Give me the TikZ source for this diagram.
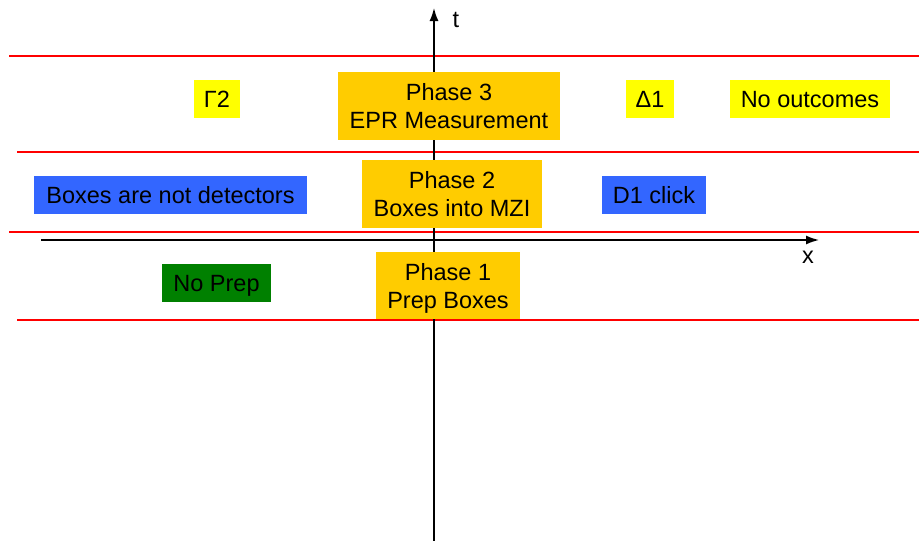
\documentclass[tikz,border=0pt]{standalone}
\usepackage{fontspec}
\setmainfont{Liberation Sans}
\usetikzlibrary{arrows.meta}
\definecolor{orng}{HTML}{FFCC00}
\definecolor{yel}{HTML}{FFFF00}
\definecolor{blu}{HTML}{3366FF}
\definecolor{grn}{HTML}{008000}
\definecolor{redl}{HTML}{FF0000}
\begin{document}
\begin{tikzpicture}[x=1pt,y=-1pt,
  lab/.style={inner sep=0pt, align=center, font=\fontsize{23.5}{28}\selectfont, text=black},
  boxlab/.style={lab, text depth=0pt},
  phasebox/.style={boxlab, fill=orng},
  yelbox/.style={boxlab, fill=yel},
  blubox/.style={boxlab, fill=blu},
  grnbox/.style={boxlab, fill=grn},
  sep/.style={draw=redl, line width=1.4pt},
  axis/.style={draw=black, line width=1.5pt, -{Latex[length=13pt,width=9pt]}}]
\useasboundingbox (0,0) rectangle (919,541);
% separator lines
\coordinate (s1a) at (9,56); \coordinate (s1b) at (919,56);
\coordinate (s2a) at (17,152); \coordinate (s2b) at (919,152);
\coordinate (s3a) at (9,232); \coordinate (s3b) at (919,232);
\coordinate (s4a) at (17,320); \coordinate (s4b) at (919,320);
\draw[sep] (s1a) -- (s1b);
\draw[sep] (s2a) -- (s2b);
\draw[sep] (s3a) -- (s3b);
\draw[sep] (s4a) -- (s4b);
% axes
\coordinate (tb) at (434,541); \coordinate (tt) at (434,8);
\coordinate (xl) at (41,240); \coordinate (xr) at (819,240);
\draw[axis] (tb) -- (tt);
\draw[axis] (xl) -- (xr);
\node[lab] (tlab) at (456,20) {t};
\node[lab] (xlab) at (808,257) {x};
% boxes
\node[phasebox, minimum width=222pt, minimum height=68pt] (p3) at (449,106) {Phase 3\\EPR Measurement};
\node[phasebox, minimum width=180pt, minimum height=68pt] (p2) at (452,194) {Phase 2\\Boxes into MZI};
\node[phasebox, minimum width=144pt, minimum height=67pt] (p1) at (448,285.5) {Phase 1\\Prep Boxes};
\node[yelbox, minimum width=46pt, minimum height=38pt] (g2) at (217,99) {Γ2};
\node[yelbox, minimum width=48pt, minimum height=38pt] (d1) at (650,99) {Δ1};
\node[yelbox, minimum width=160pt, minimum height=38pt] (no) at (810,99) {No outcomes};
\node[blubox, minimum width=273pt, minimum height=38pt] (bx) at (170.5,195) {Boxes are not detectors};
\node[blubox, minimum width=104pt, minimum height=38pt] (dc) at (654,195) {D1 click};
\node[grnbox, minimum width=109pt, minimum height=38pt] (np) at (216.5,283) {No Prep};
\end{tikzpicture}
\end{document}
